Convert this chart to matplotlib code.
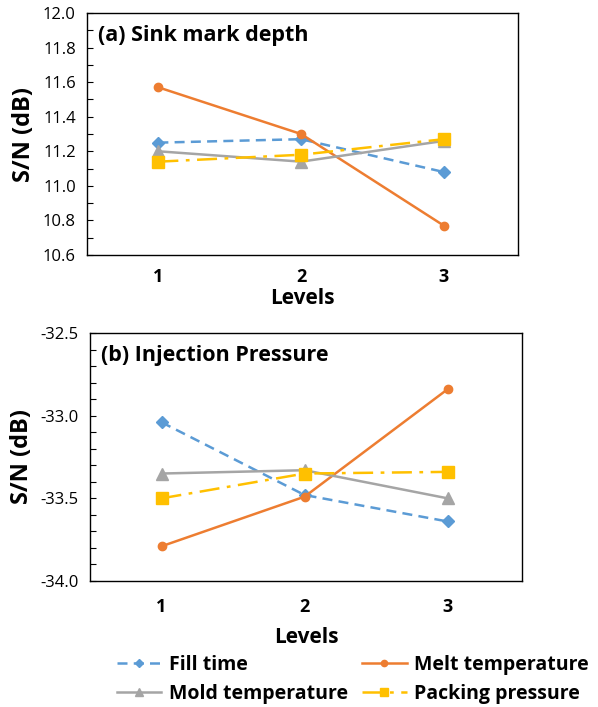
#!/usr/bin/env python3
# -*- coding: utf-8 -*-

import matplotlib
matplotlib.use("Agg")
from matplotlib import pyplot as plt
from matplotlib.ticker import MultipleLocator, FormatStrFormatter

LEVELS = [1, 2, 3]
SERIES = ["Fill time", "Melt temperature", "Mold temperature", "Packing pressure"]

# (a) Sink mark depth
SINK_FILL = [11.25, 11.27, 11.08]
SINK_MELT = [11.57, 11.30, 10.77]
SINK_MOLD = [11.20, 11.14, 11.26]
SINK_PACK = [11.14, 11.18, 11.27]

# (b) Injection pressure
INJ_FILL = [-33.04, -33.48, -33.64]
INJ_MELT = [-33.79, -33.49, -32.84]
INJ_MOLD = [-33.35, -33.33, -33.50]
INJ_PACK = [-33.50, -33.35, -33.34]

STYLES = [
    dict(color="#5B9BD5", linestyle=(0, (4, 2.5)), marker="D", markersize=6),
    dict(color="#ED7D31", linestyle="-", marker="o", markersize=6),
    dict(color="#A5A5A5", linestyle="-", marker="^", markersize=8),
    dict(color="#FFC000", linestyle=(0, (8, 3, 1.5, 3)), marker="s", markersize=8),
]

FONT = "Open Sans"


def draw_panel(ax, data, title, ylim, major, minor, xpad, xlabelpad):
    lines = []
    for values, label, style in zip(data, SERIES, STYLES):
        (ln,) = ax.plot(LEVELS, values, label=label, linewidth=1.8, **style)
        lines.append(ln)
    ax.set_xlim(0.5, 3.52)
    ax.set_ylim(*ylim)
    ax.set_xticks(LEVELS)
    ax.yaxis.set_major_locator(MultipleLocator(major))
    ax.yaxis.set_minor_locator(MultipleLocator(minor))
    ax.yaxis.set_major_formatter(FormatStrFormatter("%.1f"))
    ax.tick_params(axis="y", which="both", direction="in", length=4, width=0.8,
                   labelsize=12, pad=8)
    ax.tick_params(axis="x", length=0, labelsize=13, pad=xpad)
    for lab in ax.get_xticklabels() + ax.get_yticklabels():
        lab.set_family(FONT)
    for lab in ax.get_xticklabels():
        lab.set_fontweight("bold")
    for sp in ax.spines.values():
        sp.set_linewidth(1.0)
    ax.set_xlabel("Levels", fontsize=15, fontweight="bold", family=FONT, labelpad=xlabelpad)
    ax.set_ylabel("S/N (dB)", fontsize=17, fontweight="bold", family=FONT, labelpad=5)
    ax.text(0.025, 0.95, title, transform=ax.transAxes, ha="left", va="top",
            fontsize=15.5, fontweight="bold", family=FONT)
    return lines


fig = plt.figure(figsize=(5.98, 7.07), dpi=100)
ax1 = fig.add_axes([87 / 598, 1 - 255 / 707, 431 / 598, 242 / 707])
ax2 = fig.add_axes([90 / 598, 1 - 581 / 707, 432 / 598, 248 / 707])

lines = draw_panel(ax1, [SINK_FILL, SINK_MELT, SINK_MOLD, SINK_PACK],
                   "(a) Sink mark depth", (10.6, 12.0), 0.2, 0.1, 9, 2)
draw_panel(ax2, [INJ_FILL, INJ_MELT, INJ_MOLD, INJ_PACK],
           "(b) Injection Pressure", (-34.0, -32.5), 0.5, 0.1, 12, 8)

# legend fills column-wise, so order it to read row by row like the original
order = [0, 2, 1, 3]
fig.legend([lines[i] for i in order], [SERIES[i] for i in order],
           loc="lower center", bbox_to_anchor=(0.59, -0.02), ncol=2,
           frameon=False, prop=dict(family=FONT, weight="bold", size=14),
           handlelength=2.3, handletextpad=0.4, columnspacing=0.7, labelspacing=0.45,
           markerscale=0.75)

fig.savefig("out.png", dpi=100)
